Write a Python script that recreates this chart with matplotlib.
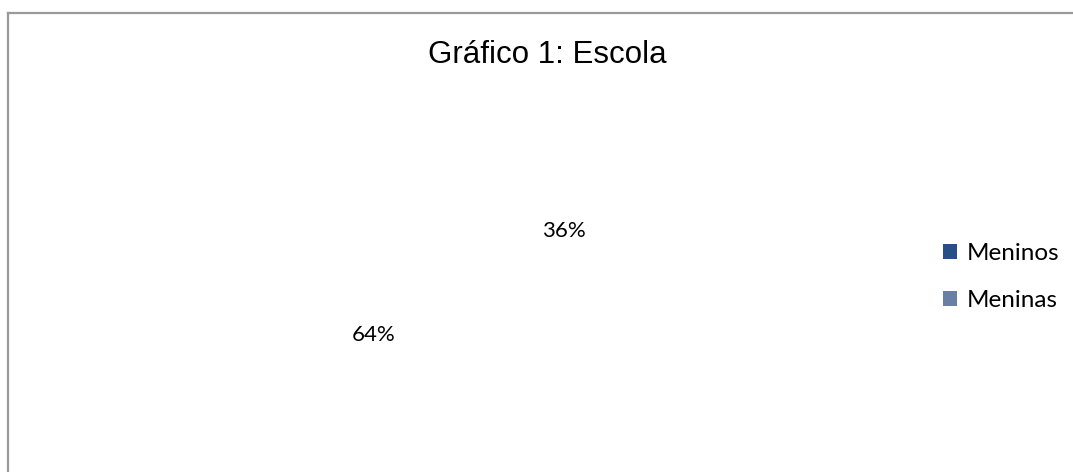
import matplotlib
matplotlib.use("Agg")
import matplotlib.pyplot as plt
from matplotlib.patches import Patch
from matplotlib.lines import Line2D

categories = ["Meninos", "Meninas"]
values = [36, 64]
legend_colors = ["#264F85", "#6A7FA6"]
title = "Gráfico 1: Escola"

W, H = 1073, 472
fig = plt.figure(figsize=(W / 100, H / 100), dpi=100)
fig.patch.set_facecolor("white")

# Border lines (top and left)
bx, by = 8 / W, 1 - 13 / H
fig.add_artist(Line2D([bx, 1.0], [by, by], color="#9a9a9a", lw=1.6, transform=fig.transFigure))
fig.add_artist(Line2D([bx, bx], [0, by], color="#9a9a9a", lw=1.6, transform=fig.transFigure))

cx, cy, r = 468.75, 283, 170
ax = fig.add_axes([(cx - r) / W, (H - cy - r) / H, 2 * r / W, 2 * r / H])
wedges, texts, autotexts = ax.pie(
    values, startangle=93.3, counterclock=False, colors=["white", "white"],
    autopct="%1.0f%%", pctdistance=0.64,
    textprops=dict(fontfamily="Lato", fontsize=16, color="black"),
)
for t in autotexts:
    t.set_va("center")
    t.set_ha("center")
ax.set_xlim(-1, 1)
ax.set_ylim(-1, 1)
ax.set_aspect("equal")
ax.axis("off")

fig.text(547 / W, 1 - 63 / H, title, ha="center", va="baseline",
         fontfamily="Liberation Sans", fontsize=22.5, color="black")

handles = [Patch(facecolor=c, edgecolor="none") for c in legend_colors]
fig.legend(handles, categories, loc="center left", bbox_to_anchor=(943 / W, 1 - 277 / H),
           frameon=False, prop=dict(family="Lato", size=17.5),
           handlelength=0.58, handleheight=0.58, handletextpad=0.4, labelspacing=1.05,
           borderaxespad=0, borderpad=0)

fig.savefig("out.png", dpi=100, facecolor="white")
